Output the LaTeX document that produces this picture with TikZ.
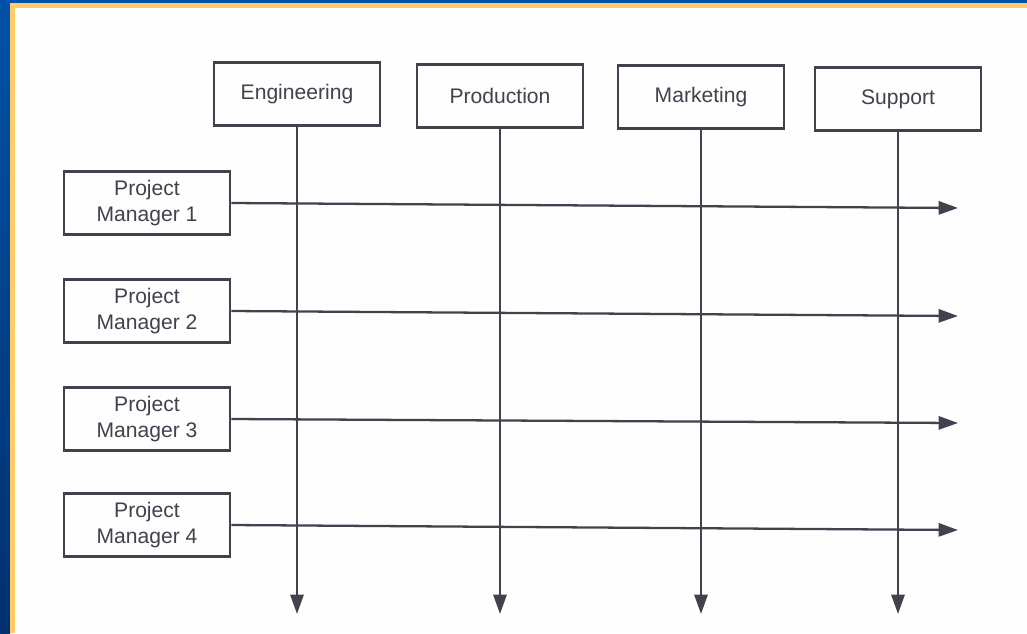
\documentclass[tikz,border=0pt]{standalone}
\usepackage{fontspec}
\setmainfont{Liberation Sans}
\usetikzlibrary{arrows.meta}
\definecolor{framblue}{RGB}{0,82,168}
\definecolor{framnavy}{RGB}{0,48,110}
\definecolor{framgold}{RGB}{255,204,102}
\definecolor{ink}{RGB}{66,66,78}
\tikzset{
	box/.style={draw=ink,line width=1.5pt,text=ink,minimum width=3.32cm,minimum height=1.25cm,align=center,inner sep=0pt,font=\fontsize{12}{15.2}\selectfont},
	arr/.style={draw=ink,line width=1.3pt,-{Triangle[length=11pt,width=7.5pt]}}
}
\begin{document}
\begin{tikzpicture}[x=0.02cm,y=-0.02cm]
	\useasboundingbox (0,0) rectangle (1027,633);
	% frame
	\fill[white!99!gray] (0,0) rectangle (1027,633);
	\shade[top color=framblue,bottom color=framnavy] (0,0) rectangle (10,633);
	\fill[framblue] (0,0) rectangle (1027,3);
	\fill[framgold] (10,3) rectangle (1027,8);
	\fill[framgold] (10,3) rectangle (15,633);
	% departments
	\node[box] (eng) at (297,94) {Engineering};
	\node[box] (prod) at (500,96) {Production};
	\node[box] (mark) at (701,97) {Marketing};
	\node[box] (supp) at (898,99) {Support};
	% project managers
	\node[box] (pm1) at (147,203) {Project\\Manager 1};
	\node[box] (pm2) at (147,311) {Project\\Manager 2};
	\node[box] (pm3) at (147,419) {Project\\Manager 3};
	\node[box] (pm4) at (147,525) {Project\\Manager 4};
	% arrow ends
	\foreach \d/\x in {eng/297,prod/500,mark/701,supp/898}
		\coordinate (\d end) at (\x,614);
	\foreach \p/\y in {pm1/208,pm2/316,pm3/423,pm4/530}
		\coordinate (\p end) at (958,\y);
	\foreach \d in {eng,prod,mark,supp}
		\draw[arr] (\d.south) -- (\d end);
	\foreach \p in {pm1,pm2,pm3,pm4}
		\draw[arr] (\p.east) -- (\p end);
\end{tikzpicture}
\end{document}
